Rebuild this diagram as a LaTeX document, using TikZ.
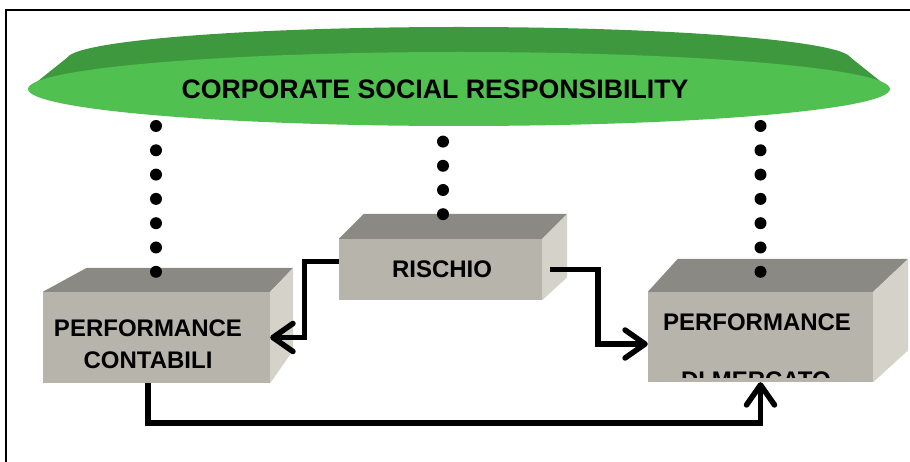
\documentclass[tikz,border=0pt]{standalone}
\usepackage{fontspec}
\setmainfont{Liberation Sans}
\usetikzlibrary{arrows.meta,shapes.geometric}
\definecolor{csrlight}{RGB}{80,192,80}
\definecolor{csrdark}{RGB}{62,152,62}
\definecolor{boxfront}{RGB}{183,180,172}
\definecolor{boxtop}{RGB}{138,137,131}
\definecolor{boxside}{RGB}{213,210,202}
\begin{document}
\begin{tikzpicture}[x=1pt,y=-1pt,
  face/.style={draw=none, fill=boxfront, rectangle, inner sep=0pt},
  lbl/.style={font=\fontsize{24}{24}\selectfont\bfseries, inner sep=0pt},
  link/.style={line width=5.5pt, -{Straight Barb[length=20pt,width=28pt,round]}},
  dotline/.style={line width=12pt, line cap=round, dash pattern=on 0pt off 24.3pt},
]
\useasboundingbox (0,0) rectangle (910,462);
% frame
\draw[line width=2pt] (6,480) -- (6,10) -- (930,10);

% green disc with its darker bevel
\fill[csrdark] (459,59) ellipse [x radius=392, y radius=32];
\fill[csrdark] (28,89) -- (68,57) -- (850,57) -- (890,89) -- cycle;
\node[ellipse, fill=csrlight, minimum width=862pt, minimum height=74pt, inner sep=0pt] (csr) at (459,89) {};
\node[lbl, font=\fontsize{26.7}{26.7}\selectfont\bfseries] (csrtext) at (435,89) {CORPORATE SOCIAL RESPONSIBILITY};

% left block
\node[face, minimum width=227pt, minimum height=91pt] (lbox) at (156.5,337.5) {};
\fill[boxtop] (lbox.north west) -- ([shift={(44,-24)}]lbox.north west) -- ([shift={(23,-24)}]lbox.north east) -- (lbox.north east) -- cycle;
\fill[boxside] (lbox.north east) -- ([shift={(23,-24)}]lbox.north east) -- ([shift={(23,-33)}]lbox.south east) -- (lbox.south east) -- cycle;
\node[lbl] (lt1) at (148,328) {PERFORMANCE};
\node[lbl] (lt2) at (148,360) {CONTABILI};

% middle block
\node[face, minimum width=203pt, minimum height=61pt] (mbox) at (440.5,269.5) {};
\fill[boxtop] (mbox.north west) -- ([shift={(25,-25)}]mbox.north west) -- ([shift={(25,-25)}]mbox.north east) -- (mbox.north east) -- cycle;
\fill[boxside] (mbox.north east) -- ([shift={(25,-25)}]mbox.north east) -- ([shift={(25,-23)}]mbox.south east) -- (mbox.south east) -- cycle;
\node[lbl] (mt) at (442,269.2) {RISCHIO};

% right block
\node[face, minimum width=225pt, minimum height=90pt] (rbox) at (760.5,337) {};
\fill[boxtop] (rbox.north west) -- ([shift={(30,-33)}]rbox.north west) -- ([shift={(35,-33)}]rbox.north east) -- (rbox.north east) -- cycle;
\fill[boxside] (rbox.north east) -- ([shift={(35,-33)}]rbox.north east) -- ([shift={(35,-32)}]rbox.south east) -- (rbox.south east) -- cycle;
\node[lbl] (rt1) at (757,322.3) {PERFORMANCE};
\begin{scope}
  \clip (rbox.north west) rectangle (873,377.5);
  \node[lbl] (rt2) at (756,380.2) {DI MERCATO};
\end{scope}

% arrows
\draw[link] ([yshift=8pt]mbox.west) -- ++(-34.5,0) |- (lbox.east);
\draw[link] ([xshift=8pt]mbox.east) -- ++(48,0) |- ([yshift=-7pt]rbox.west);
\draw[link] ([xshift=-8.5pt]lbox.south) -- ++(0,40) -| (rbox.south);

% dotted links to the disc
\coordinate (lup) at (156,126);
\coordinate (ldn) at (156,272);
\coordinate (mup) at (443,141.6);
\coordinate (mdn) at (443,214.3);
\coordinate (rup) at (760.5,126);
\coordinate (rdn) at (760.5,272);
\draw[dotline] (lup) -- (ldn);
\draw[dotline, dash pattern=on 0pt off 24.2pt] (mup) -- (mdn);
\draw[dotline] (rup) -- (rdn);
\end{tikzpicture}
\end{document}
